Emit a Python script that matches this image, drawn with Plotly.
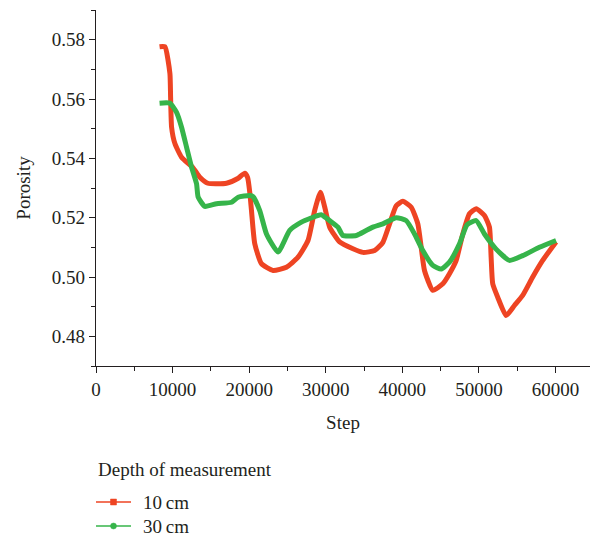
import plotly.graph_objects as go

# 10 cm depth
step_10 = [8300, 9000, 9650, 9740, 9870, 10300, 11170, 12650, 13560, 14600, 17040, 18510, 19430,
           19800, 20100, 20300, 20730, 21600, 23120, 24860, 26380, 27680, 28550, 29300, 29860,
           30510, 31810, 33550, 34850, 36380, 37460, 38330, 39200, 40070, 41160, 42020, 42460,
           42890, 43980, 45280, 46150, 47030, 47890, 48760, 49640, 50720, 51370, 51590, 51800,
           52450, 53550, 54630, 55710, 57020, 58320, 60070]
por_10 = [0.5776, 0.5776, 0.5686, 0.5606, 0.5505, 0.5450, 0.5404, 0.5369, 0.5336, 0.5316, 0.5316,
          0.5332, 0.5350, 0.5335, 0.5280, 0.5224, 0.5112, 0.5045, 0.5022, 0.5033, 0.5067, 0.5123,
          0.5224, 0.5286, 0.5236, 0.5168, 0.5118, 0.5095, 0.5083, 0.5089, 0.5117, 0.5179, 0.5240,
          0.5255, 0.5235, 0.5179, 0.5100, 0.5022, 0.4955, 0.4977, 0.5011, 0.5056, 0.5145, 0.5213,
          0.5230, 0.5207, 0.5168, 0.5067, 0.4977, 0.4932, 0.4870, 0.4904, 0.4938, 0.5000, 0.5056,
          0.5118]

# 30 cm depth
step_30 = [8300, 9650, 10520, 11170, 11830, 12480, 13130, 13340, 14210, 15740, 17700, 18560, 20080,
           20510, 21380, 22260, 23770, 25290, 26820, 28000, 29400, 30510, 31590, 32240, 33990,
           34420, 36150, 37460, 39200, 40510, 41590, 42670, 43980, 45070, 46150, 47460, 48450,
           49640, 50720, 52240, 53980, 55710, 57890, 60070]
por_30 = [0.5586, 0.5586, 0.5555, 0.5505, 0.5437, 0.5370, 0.5314, 0.5269, 0.5238, 0.5247, 0.5252,
          0.5269, 0.5275, 0.5271, 0.5224, 0.5145, 0.5084, 0.5157, 0.5185, 0.5198, 0.5210, 0.5190,
          0.5168, 0.5140, 0.5140, 0.5145, 0.5168, 0.5179, 0.5200, 0.5190, 0.5145, 0.5089, 0.5039,
          0.5027, 0.5050, 0.5112, 0.5176, 0.5190, 0.5145, 0.5094, 0.5056, 0.5072, 0.5100, 0.5123]

legend_title = "Depth of measurement"
series_names = ["10\u2009cm", "30\u2009cm"]

RED = "#EE4423"
GREEN = "#36B44A"
FONT = "Liberation Serif"
TXT = "#231F20"
FS = 19

W, H = 591, 538
ML, MR, MT, MB = 96, 1, 10, 172
PW, PH = W - ML - MR, H - MT - MB


def px_x(p):  # pixel x -> paper x
    return (p - ML) / PW


def px_y(p):  # pixel y -> paper y
    return (H - MB - p) / PH


fig = go.Figure()
fig.add_trace(go.Scatter(x=step_10, y=por_10, mode="lines", name=series_names[0],
                         line=dict(color=RED, width=5, shape="spline", smoothing=0.5),
                         showlegend=False))
fig.add_trace(go.Scatter(x=step_30, y=por_30, mode="lines", name=series_names[1],
                         line=dict(color=GREEN, width=5, shape="spline", smoothing=0.5),
                         showlegend=False))

axis_common = dict(showline=True, linecolor="#231F20", linewidth=1.3, ticks="outside", ticklen=6,
                   tickcolor="#231F20", tickwidth=1.2, showgrid=False, zeroline=False,
                   tickfont=dict(family=FONT, size=FS, color=TXT))

fig.update_xaxes(range=[0, 64500], dtick=10000, tick0=0, tickformat="d",
                 minor=dict(dtick=5000, ticks="outside", ticklen=4, tickcolor="#231F20"),
                 title=dict(text="Step", font=dict(family=FONT, size=FS, color=TXT), standoff=16),
                 **axis_common)
fig.update_yaxes(range=[0.47, 0.59], dtick=0.02, tick0=0.48, tickformat=".2f",
                 minor=dict(dtick=0.01, ticks="outside", ticklen=4, tickcolor="#231F20"),
                 title=dict(text="Porosity", font=dict(family=FONT, size=FS, color=TXT), standoff=16),
                 **axis_common)

# manual legend (kept inside the bottom margin)
fig.add_annotation(text=legend_title, xref="paper", yref="paper", x=px_x(96), xanchor="left",
                   y=px_y(469), yanchor="middle", showarrow=False,
                   font=dict(family=FONT, size=FS, color=TXT))
legend_rows = [(series_names[0], RED, "rect", 502), (series_names[1], GREEN, "circle", 526)]
for name, col, shp, ypx in legend_rows:
    fig.add_shape(type="line", xref="paper", yref="paper", x0=px_x(96), x1=px_x(131),
                  y0=px_y(ypx), y1=px_y(ypx), line=dict(color=col, width=1.5))
    fig.add_shape(type=shp, xref="paper", yref="paper", xsizemode="pixel", ysizemode="pixel",
                  xanchor=px_x(113.5), yanchor=px_y(ypx), x0=-3, x1=3, y0=-3, y1=3,
                  fillcolor=col, line=dict(color=col, width=0.5))
    fig.add_annotation(text=name, xref="paper", yref="paper", x=px_x(141), xanchor="left",
                       y=px_y(ypx), yanchor="middle", showarrow=False,
                       font=dict(family=FONT, size=FS, color=TXT))

fig.update_layout(
    width=W, height=H,
    margin=dict(l=ML, r=MR, t=MT, b=MB),
    plot_bgcolor="white", paper_bgcolor="white",
    font=dict(family=FONT, size=FS, color=TXT),
    showlegend=False,
)

fig.write_html("out.html")
